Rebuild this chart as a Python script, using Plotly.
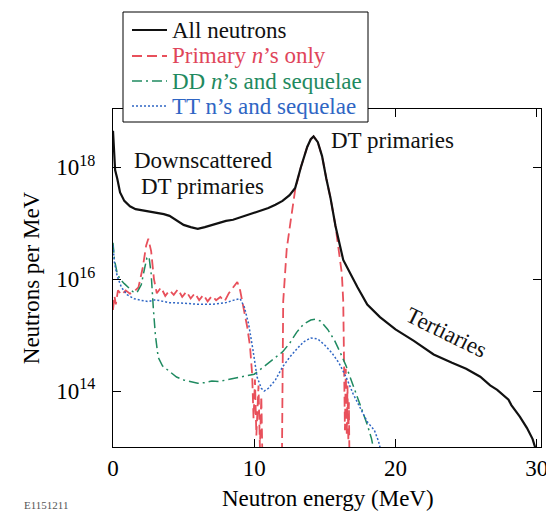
import plotly.graph_objects as go

# ---------------- data ----------------
energy_all = [0, 0.05, 0.15, 0.3, 0.5, 0.8, 1.2, 1.6, 2.1, 2.6, 3.1, 3.6, 4.0, 4.3, 4.5, 5.0,
              5.5, 6.0, 6.5, 7.0, 7.5, 8.0, 8.5, 9.0, 9.5, 10.0, 10.5, 11.0, 11.5, 12.0,
              12.5, 12.9, 13.3, 13.75, 14.0, 14.2, 14.5, 14.8, 15.1, 15.4, 15.75, 16.3,
              17.3, 18.0, 18.9, 20.0, 21.3, 22.7, 24.0, 25.0, 26.0, 26.7, 27.2, 27.5,
              28.0, 28.2, 28.8, 29.3, 29.7, 30.0]
n_all = [4.47e18, 2.0e18, 8.9e17, 6.3e17, 3.55e17, 2.5e17, 2.0e17, 1.78e17, 1.7e17, 1.58e17,
         1.51e17, 1.45e17, 1.35e17, 1.2e17, 1.12e17, 9.3e16, 8.5e16, 7.9e16, 8.5e16, 9.3e16,
         1.0e17, 1.1e17, 1.15e17, 1.26e17, 1.38e17, 1.51e17, 1.66e17, 1.86e17, 2.14e17,
         2.5e17, 3.16e17, 4.27e17, 1.0e18, 2.3e18, 3.16e18, 3.55e18, 2.8e18, 1.58e18,
         6.3e17, 2.8e17, 8.9e16, 2.2e16, 7.2e15, 3.5e15, 2.1e15, 1.26e15, 7.9e14, 4.5e14,
         3.2e14, 2.5e14, 1.8e14, 1.26e14, 1.05e14, 8.9e13, 7.0e13, 5.6e13, 3.5e13, 2.2e13,
         1.4e13, 8.0e12]

energy_primary = [0.0, 0.1, 0.2, 0.35, 0.6, 0.9, 1.2, 1.5, 1.8, 2.1, 2.35, 2.5, 2.7, 2.9, 3.1,
                  3.4, 3.7, 4.0, 4.3, 4.6, 4.9, 5.2, 5.5, 5.8, 6.1, 6.4, 6.7, 7.0, 7.3, 7.6,
                  7.9, 8.2, 8.5, 8.8, 9.0, 9.2, 9.5, 9.7, 9.85, 9.95, 10.05, 10.15, 10.3,
                  10.4, 10.5, 10.6, 11.95, 12.05, 12.3, 12.6, 12.9, 13.3, 13.75, 14.0, 14.2,
                  14.5, 14.8, 15.1, 15.4, 15.75, 16.0, 16.2, 16.3, 16.35, 16.42, 16.48, 16.55,
                  16.6, 16.66, 16.7, 16.75]
n_primary = [2.82e15, 5.0e15, 3.55e15, 6.3e15, 5.25e15, 6.3e15, 5.5e15, 6.0e15, 7.1e15, 1.58e16,
             4.0e16, 5.25e16, 3.16e16, 1.0e16, 5.6e15, 7.1e15, 5.0e15, 6.3e15, 5.25e15, 6.6e15,
             4.8e15, 6.0e15, 4.5e15, 5.6e15, 4.2e15, 5.25e15, 4.0e15, 5.0e15, 4.2e15, 4.8e15,
             4.0e15, 5.6e15, 7.1e15, 8.9e15, 6.3e15, 3.55e15, 1.41e15, 6.3e14, 2.0e14, 3.2e13,
             1.6e14, 1.6e13, 1.26e14, 1.0e13, 8.0e13, 3.0e12, 3.0e12, 4.0e15, 3.5e16, 1.2e17,
             4.0e17, 1.0e18, 2.3e18, 3.16e18, 3.55e18, 2.8e18, 1.58e18, 6.3e17, 2.8e17, 8.9e16,
             2.8e16, 1.26e16, 4.0e15, 3.16e14, 2.0e13, 2.5e14, 1.6e13, 1.26e14, 1.26e13,
             6.3e13, 3.0e12]

energy_dd = [0.0, 0.1, 0.3, 0.5, 0.8, 1.1, 1.4, 1.7, 2.0, 2.2, 2.4, 2.55, 2.7, 2.85, 3.0, 3.2,
             3.5, 4.0, 4.5, 5.0, 5.5, 6.0, 6.5, 7.0, 7.5, 8.0, 8.5, 9.0, 9.5, 10.0, 10.5,
             11.0, 11.5, 12.0, 12.5, 13.0, 13.5, 14.0, 14.3, 14.7, 15.2, 15.7, 16.1, 16.5,
             17.0, 17.3, 17.7, 18.0, 18.3, 18.5]
n_dd = [4.47e16, 2.24e16, 1.26e16, 1.0e16, 8.3e15, 7.1e15, 6.0e15, 5.75e15, 7.9e15, 1.41e16,
        2.4e16, 2.51e16, 1.26e16, 3.16e15, 1.0e15, 4.0e14, 2.82e14, 2.24e14, 1.78e14, 1.58e14,
        1.48e14, 1.38e14, 1.41e14, 1.51e14, 1.48e14, 1.58e14, 1.66e14, 1.78e14, 1.91e14,
        2.0e14, 2.51e14, 3.16e14, 4.0e14, 5.0e14, 7.1e14, 1.12e15, 1.58e15, 1.86e15, 1.91e15,
        1.78e15, 1.26e15, 7.9e14, 4.8e14, 2.82e14, 1.26e14, 7.9e13, 4.0e13, 2.51e13, 1.41e13,
        7.9e12]

energy_tt = [0.0, 0.1, 0.3, 0.6, 1.0, 1.5, 2.0, 2.5, 3.0, 3.5, 4.0, 5.0, 6.0, 7.0, 8.0, 8.5,
             9.0, 9.3, 9.6, 9.9, 10.2, 10.5, 10.7, 11.0, 11.5, 12.0, 12.5, 13.0, 13.5, 14.0,
             14.5, 15.0, 15.5, 16.0, 16.5, 17.0, 17.5, 18.0, 18.5, 18.8, 19.0]
n_tt = [3.98e16, 2.0e16, 1.12e16, 7.1e15, 5.25e15, 4.47e15, 4.17e15, 3.98e15, 4.27e15, 3.98e15,
        3.8e15, 3.72e15, 3.55e15, 3.55e15, 3.8e15, 4.17e15, 4.47e15, 3.16e15, 1.58e15, 5.6e14,
        1.78e14, 1.12e14, 1.0e14, 1.12e14, 1.58e14, 2.69e14, 4.0e14, 5.6e14, 7.6e14, 8.9e14,
        8.5e14, 6.6e14, 4.8e14, 3.16e14, 1.78e14, 8.9e13, 5.0e13, 2.82e13, 2.0e13, 1.26e13,
        7.9e12]

series_labels = ["All neutrons", "Primary <i>n</i>\u2019s only",
                 "DD <i>n</i>\u2019s and sequelae", "TT n\u2019s and sequelae"]

x_title = "Neutron energy (MeV)"
y_title = "Neutrons per MeV"
x_tickvals = [0, 10, 20, 30]
y_tickvals = [1e14, 1e16, 1e18]
y_ticktext = ["10<sup>14</sup>", "10<sup>16</sup>", "10<sup>18</sup>"]

FONT = "Liberation Serif"
BLACK, RED, GREEN, BLUE = "#111111", "#e8505b", "#1f8a60", "#2f66c4"
TEXT_COLORS = ["#111111", "#e0455a", "#1f8a60", "#2f66c4"]
STYLES = [dict(color=BLACK, width=2.2),
          dict(color=RED, width=1.8, dash="10px,5px"),
          dict(color=GREEN, width=1.5, dash="10px,4px,2px,4px"),
          dict(color=BLUE, width=1.5, dash="2px,2px")]

fig = go.Figure()
fig.add_trace(go.Scatter(x=energy_primary, y=n_primary, mode="lines", name=series_labels[1],
                         line=STYLES[1], showlegend=False))
fig.add_trace(go.Scatter(x=energy_dd, y=n_dd, mode="lines", name=series_labels[2],
                         line=STYLES[2], showlegend=False))
fig.add_trace(go.Scatter(x=energy_tt, y=n_tt, mode="lines", name=series_labels[3],
                         line=STYLES[3], showlegend=False))
fig.add_trace(go.Scatter(x=energy_all, y=n_all, mode="lines", name=series_labels[0],
                         line=STYLES[0], showlegend=False))

axis_common = dict(showgrid=False, zeroline=False, showline=True, linecolor="black",
                   linewidth=1.2, mirror="ticks", ticks="inside", ticklen=8,
                   tickcolor="black", automargin=False,
                   tickfont=dict(family=FONT, size=23, color="black"))

fig.update_xaxes(range=[0, 30.3], tickvals=x_tickvals, **axis_common)
fig.update_yaxes(type="log", range=[13.0, 19.04], tickvals=y_tickvals, ticktext=y_ticktext,
                 ticklabelstandoff=12,
                 title=dict(text=y_title, font=dict(family=FONT, size=23, color="black"),
                            standoff=10),
                 **axis_common)

annotations = [
    dict(x=6.37, y=18.125, text="Downscattered"),
    dict(x=6.37, y=17.65, text="DT primaries"),
    dict(x=19.8, y=18.48, text="DT primaries"),
    dict(x=23.6, y=15.04, text="Tertiaries", textangle=26),
]
for a in annotations:
    fig.add_annotation(xref="x", yref="y", showarrow=False,
                       font=dict(family=FONT, size=23, color="#111111"), **a)

# ---- page layout in screenshot pixels (the page body adds an 8 px offset) ----
OFF = 8
PL, PR, PT, PB = 113, 541, 109, 447
W, H = 554, 512


def px_x(p):
    return (p - PL) / (PR - PL)


def px_y(p):
    return (PB - p) / (PB - PT)


# x-axis title placed as an annotation for exact vertical placement
fig.add_annotation(xref="paper", yref="paper", x=px_x(328), y=px_y(499), xanchor="center",
                   yanchor="middle", showarrow=False, text=x_title,
                   font=dict(family=FONT, size=23, color="black"))

# ---- legend box drawn by hand ----
fig.add_shape(type="rect", xref="paper", yref="paper", x0=px_x(123), x1=px_x(368),
              y0=px_y(122), y1=px_y(12), line=dict(color="black", width=1),
              fillcolor="white", layer="above")
row_y = [30, 56, 81, 106]
for i, lab in enumerate(series_labels):
    fig.add_shape(type="line", xref="paper", yref="paper", x0=px_x(132), x1=px_x(167),
                  y0=px_y(row_y[i]), y1=px_y(row_y[i]), line=STYLES[i], layer="above")
    fig.add_annotation(xref="paper", yref="paper", x=px_x(170), y=px_y(row_y[i]),
                       xanchor="left", yanchor="middle", showarrow=False, text=lab,
                       font=dict(family=FONT, size=23, color=TEXT_COLORS[i]))

fig.add_annotation(xref="paper", yref="paper", x=px_x(22), y=px_y(505), xanchor="left",
                   yanchor="middle", showarrow=False, text="E1151211",
                   font=dict(family=FONT, size=11, color="#555555"))

fig.update_layout(
    width=W, height=H,
    margin=dict(l=PL - OFF, r=W - (PR - OFF), t=PT - OFF, b=H - (PB - OFF), autoexpand=False),
    paper_bgcolor="white", plot_bgcolor="white",
    font=dict(family=FONT, size=23, color="black"),
    showlegend=False,
)

fig.write_html("out.html")
